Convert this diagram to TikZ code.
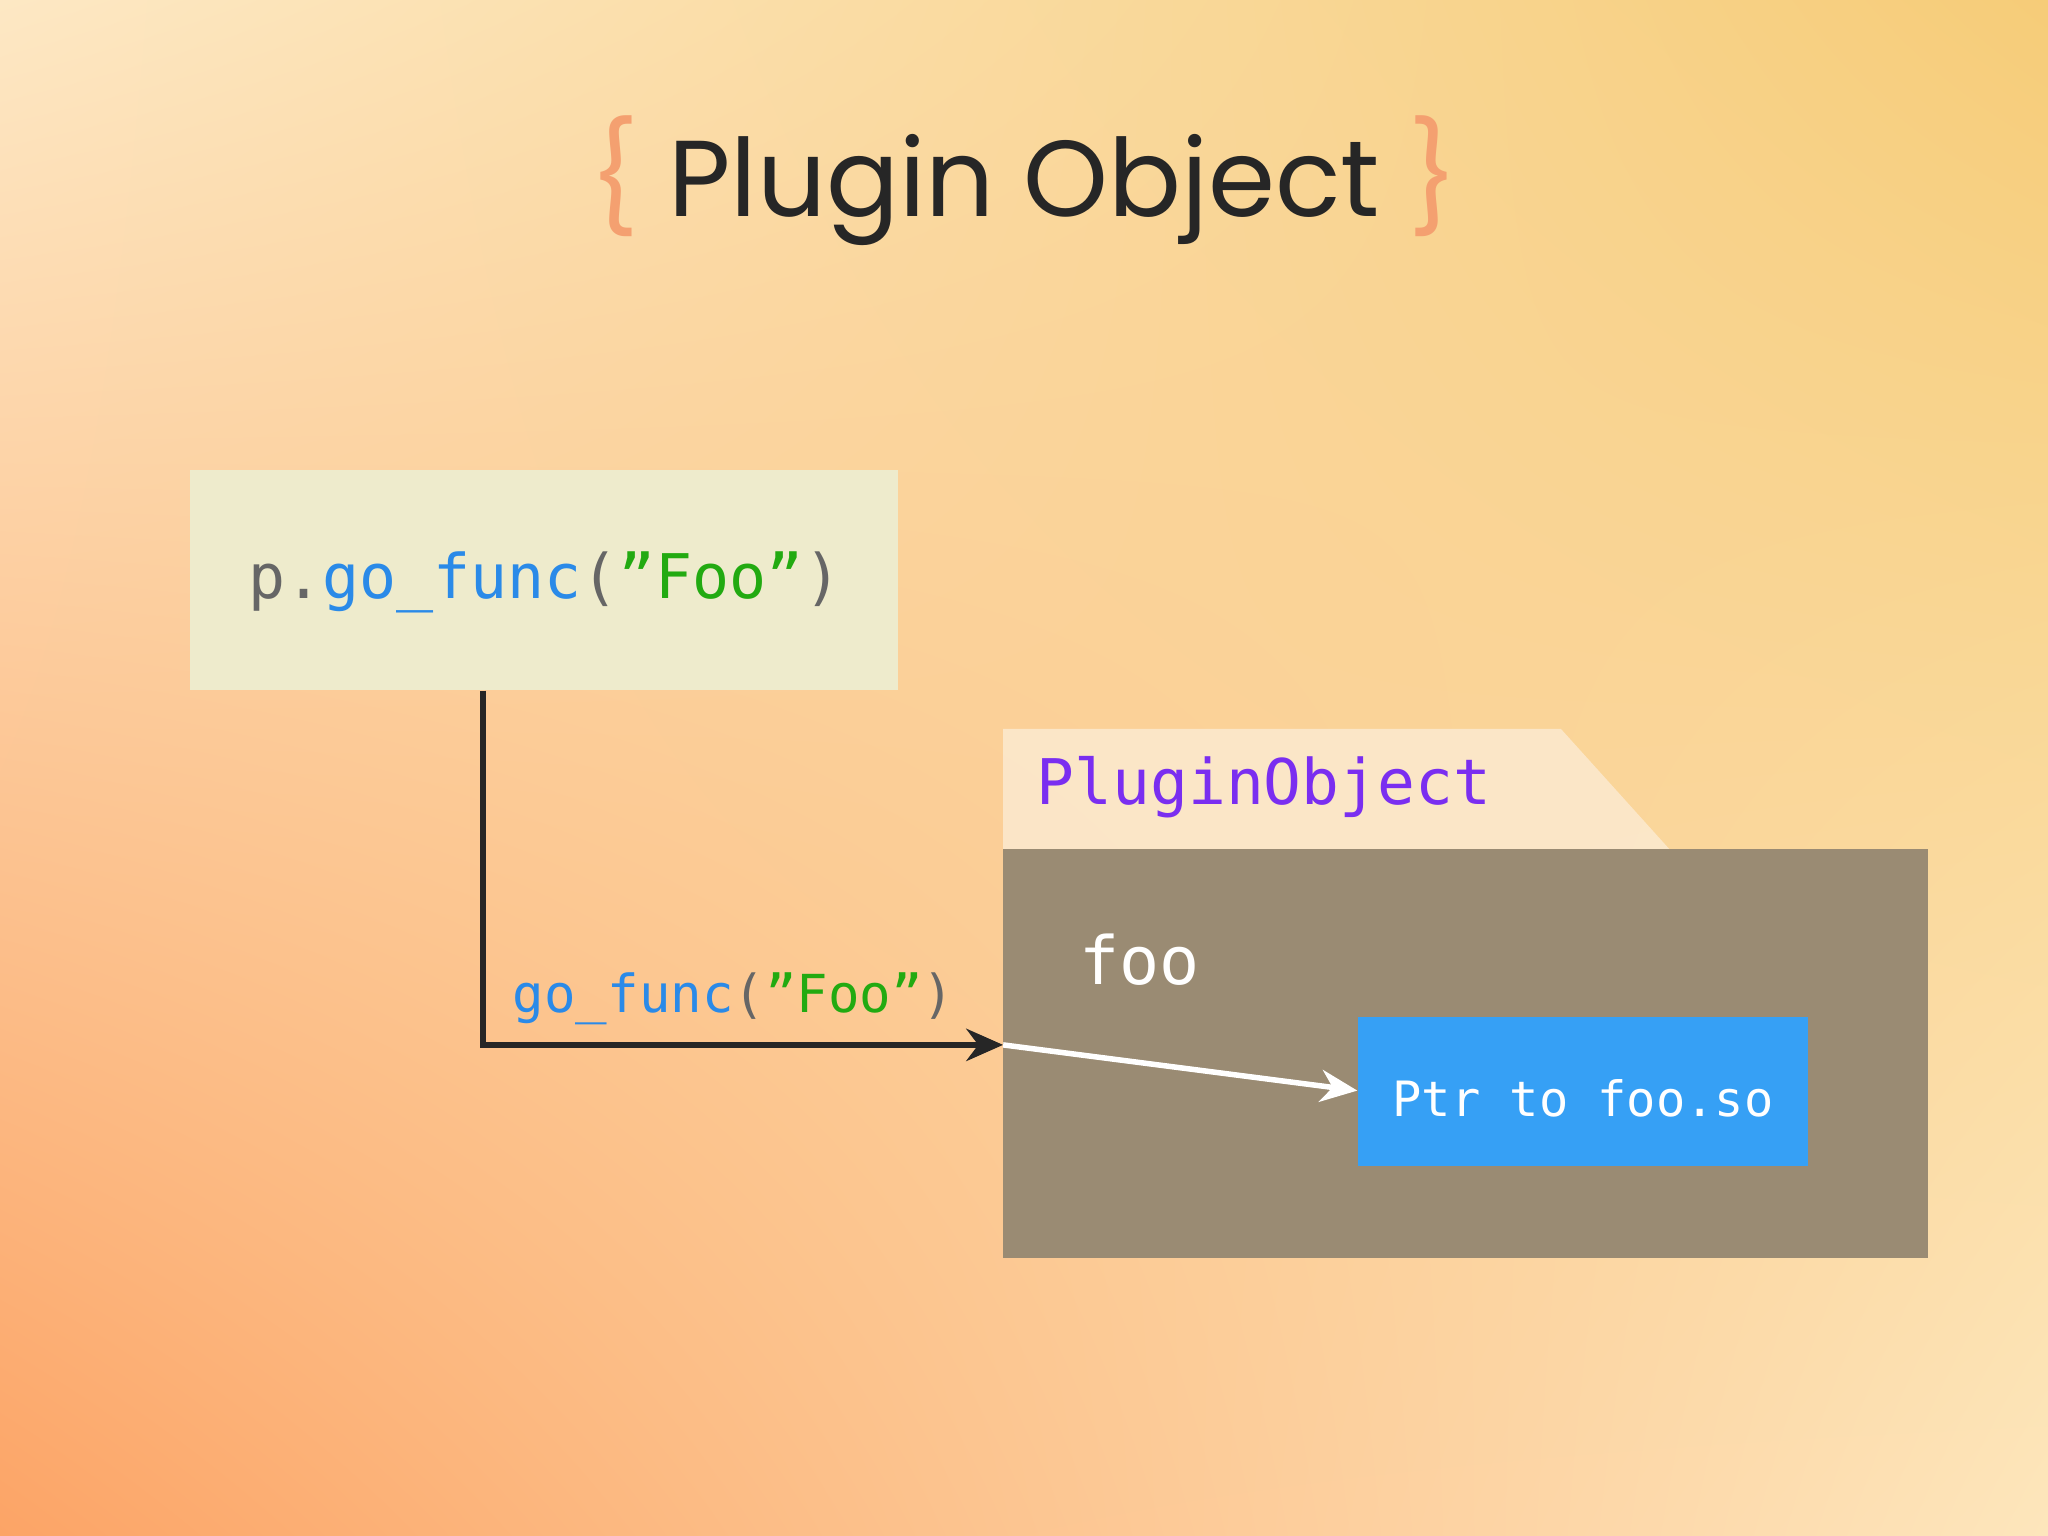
\documentclass[tikz,border=0pt]{standalone}
\usepackage{fontspec}
\setmainfont{Poppins}
\newfontfamily\codefont{DejaVu Sans Mono}
\usetikzlibrary{arrows.meta,shadings}
\definecolor{bgTL}{HTML}{FDE8C4}
\definecolor{bgTR}{HTML}{F6CC78}
\definecolor{bgBL}{HTML}{FCA466}
\definecolor{bgBR}{HTML}{FDE6BC}
\definecolor{brace}{HTML}{F4A070}
\definecolor{codegray}{HTML}{666666}
\definecolor{codeblue}{HTML}{2A8AE8}
\definecolor{codegreen}{HTML}{22AA11}
\definecolor{purp}{HTML}{7A2EF0}
\definecolor{objbox}{HTML}{9A8B73}
\definecolor{ptrblue}{HTML}{36A0F5}
\definecolor{callbox}{HTML}{EEEBCC}
\definecolor{tabfill}{HTML}{FCEAD0}
\tikzset{
  conn/.style={draw=black!85, line width=1.4pt},
  code/.style={font=\codefont, inner sep=0pt}
}
\begin{document}
\begin{tikzpicture}[x=0.01cm,y=-0.01cm]
\shade[upper left=bgTL, upper right=bgTR, lower left=bgBL, lower right=bgBR] (0,0) rectangle (1568,1176);
\useasboundingbox (0,0) rectangle (1568,1176);
\node[inner sep=0pt, font=\fontsize{23.5}{26}\selectfont] (title) at (784,138)
  {\textcolor{brace}{\{}\ \textcolor{black!85}{Plugin Object}\ \textcolor{brace}{\}}};
\node[fill=callbox, minimum width=5.41cm, minimum height=1.68cm, inner sep=0pt] (call) at (416.5,444) {};
\node[code, font=\codefont\fontsize{13.4}{15}\selectfont] (calltxt) at (417,446)
  {\textcolor{codegray}{p.}\textcolor{codeblue}{go\_func}\textcolor{codegray}{(}\textcolor{codegreen}{”Foo”}\textcolor{codegray}{)}};
\fill[tabfill, opacity=0.85] (768,558) -- (1195,558) -- (1278,650) -- (768,650) -- cycle;
\node[code, font=\codefont\fontsize{13.7}{15}\selectfont, text=purp, anchor=west] (tab) at (793,603) {PluginObject};
\node[fill=objbox, minimum width=7.08cm, minimum height=3.13cm, inner sep=0pt] (obj) at (1122,806.5) {};
\node[code, font=\codefont\fontsize{14.5}{16}\selectfont, text=white, anchor=west] (foo) at (826,735) {foo};
\node[fill=ptrblue, minimum width=3.44cm, minimum height=1.14cm, inner sep=0pt] (ptr) at (1212,836) {};
\node[code, font=\codefont\fontsize{10.6}{12}\selectfont, text=white] (ptrtxt) at (1212,841) {Ptr to foo.so};
\coordinate (entry) at (768,800);
\draw[conn, -{Stealth[length=8pt,width=7pt]}] (call.south -| 370,0) -- (370,800) -- (entry);
\node[code, font=\codefont\fontsize{11.4}{13}\selectfont, anchor=west] (lbl) at (392,765)
  {\textcolor{codeblue}{go\_func}\textcolor{codegray}{(}\textcolor{codegreen}{”Foo”}\textcolor{codegray}{)}};
\draw[white, line width=1.2pt, -{Stealth[length=8pt,width=7pt]}] (entry) -- (ptr.west |- 0,835);
\end{tikzpicture}
\end{document}
